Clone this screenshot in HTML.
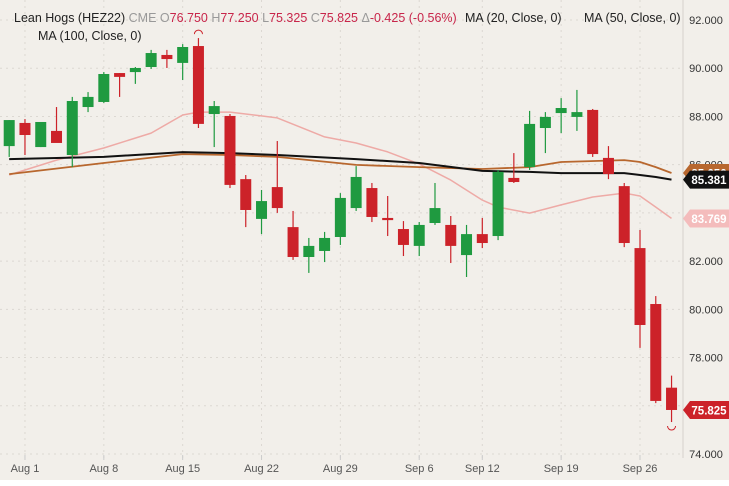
<!DOCTYPE html>
<html><head><meta charset="utf-8"><style>
body{margin:0;background:#fff;}
svg{display:block;font-family:"Liberation Sans",sans-serif;}
</style></head><body>
<svg id="c" width="729" height="486" viewBox="0 0 729 486">
<rect x="0" y="0" width="729" height="480" fill="#f2efea"/>
<line x1="683" y1="0" x2="683" y2="458" stroke="#d6d2cc" stroke-width="1"/>
<g id="grid"></g><g id="ma"></g><g id="candles"></g><g id="axes"></g><g id="labels"></g>
<g font-size="12.5">
<text x="14" y="22"><tspan fill="#222">Lean Hogs (HEZ22)</tspan><tspan fill="#999"> CME </tspan><tspan fill="#999"> O</tspan><tspan fill="#c8254a">76.750</tspan><tspan fill="#999"> H</tspan><tspan fill="#c8254a">77.250</tspan><tspan fill="#999"> L</tspan><tspan fill="#c8254a">75.325</tspan><tspan fill="#999"> C</tspan><tspan fill="#c8254a">75.825</tspan><tspan fill="#999"> Δ</tspan><tspan fill="#c8254a">-0.425 (-0.56%)</tspan></text>
<text x="465" y="22" fill="#222">MA (20, Close, 0)</text>
<text x="584" y="22" fill="#222">MA (50, Close, 0)</text>
<text x="38" y="40" fill="#222">MA (100, Close, 0)</text>
</g>
</svg>
<script>
const opens=[86.77,87.73,86.73,87.40,86.40,88.39,88.60,89.80,89.84,90.05,90.55,90.22,90.92,88.10,88.02,85.40,83.75,85.07,83.41,82.17,82.42,83.00,84.20,85.03,83.79,83.33,82.63,83.58,83.50,82.25,83.12,83.04,85.45,85.90,87.52,88.14,87.98,88.27,86.28,85.11,82.54,80.22,76.75];
const highs=[87.85,87.89,87.77,88.39,88.81,89.01,89.84,89.80,90.05,90.76,90.76,91.00,91.25,88.64,88.10,85.57,84.95,86.98,84.08,82.96,83.21,84.82,85.94,85.24,84.70,83.66,83.62,85.24,83.87,83.50,83.79,85.78,86.48,88.23,88.18,88.76,89.10,88.31,86.77,85.24,83.29,80.55,77.25];
const lows=[86.32,86.40,86.73,87.02,85.90,88.18,88.56,88.81,89.35,89.97,90.01,89.51,87.52,86.73,85.03,83.41,83.12,84.00,82.05,81.51,81.96,82.67,84.08,83.62,83.04,82.21,82.21,83.50,81.92,81.34,82.54,82.87,85.24,85.78,86.48,87.31,87.40,86.32,85.40,82.58,78.40,76.11,75.325];
const closes=[87.85,87.23,87.77,86.90,88.64,88.81,89.76,89.64,90.01,90.63,90.38,90.88,87.69,88.43,85.16,84.12,84.49,84.20,82.17,82.63,82.96,84.62,85.49,83.83,83.70,82.67,83.50,84.20,82.63,83.12,82.75,85.70,85.28,87.69,87.98,88.35,88.18,86.44,85.61,82.75,79.35,76.20,75.825];
const ma20Idx=[0,1,3,6,9,11,12,14,17,20,22,24,26,28,30,31,33,35,37,39,40,41,42];
const ma20=[85.57,85.78,86.19,86.69,87.31,88.06,88.18,88.18,87.94,87.15,86.90,86.53,86.03,85.36,84.53,84.24,83.99,84.33,84.66,84.82,84.70,84.24,83.769];
const ma50Idx=[0,6,11,14,17,22,26,30,33,35,39,40,41,42];
const ma50=[85.61,86.07,86.44,86.40,86.32,85.99,85.90,85.82,85.90,86.11,86.19,86.11,85.90,85.656];
const ma100Idx=[0,6,11,14,17,22,26,30,33,35,39,40,41,42];
const ma100=[86.23,86.32,86.52,86.48,86.40,86.23,86.07,85.74,85.70,85.65,85.65,85.57,85.49,85.381];
const yTicks=[92,90,88,86,84,82,80,78,76,74];
const xLabels=["Aug 1","Aug 8","Aug 15","Aug 22","Aug 29","Sep 6","Sep 12","Sep 19","Sep 26"];
const xLabelIdx=[1,6,11,16,21,26,30,35,40];

const NS="http://www.w3.org/2000/svg";
function y(p){return 20+(92-p)*24.11;}
function x(i){return 9.2+i*15.77;}
function mk(tag,attrs,parent){const e=document.createElementNS(NS,tag);for(const k in attrs)e.setAttribute(k,attrs[k]);parent.appendChild(e);return e;}
const G=document.getElementById('grid'),M=document.getElementById('ma'),C=document.getElementById('candles'),A=document.getElementById('axes'),L=document.getElementById('labels');

yTicks.forEach(t=>{
  const ln=mk('line',{x1:0,x2:683,y1:y(t),y2:y(t),stroke:'#dcd8d2','stroke-dasharray':'2,4'},G);
  
  
  const tx=mk('text',{x:706,y:y(t)+4,'text-anchor':'middle','font-size':'11',fill:'#333'},A);
  tx.textContent=t.toFixed(3);
  
  
});
xLabelIdx.forEach((k,j)=>{
  const ln=mk('line',{x1:x(k),x2:x(k),y1:0,y2:458,stroke:'#dcd8d2','stroke-dasharray':'2,4'},G);
  
  
  const tk=mk('line',{x1:x(k),x2:x(k),y1:455,y2:460,stroke:'#ccc'},A);
  
  
  const tx=mk('text',{x:x(k),y:472,'text-anchor':'middle','font-size':'11',fill:'#555'},A);
  tx.textContent=xLabels[j];
  
  
});

function maLine(idx,vals,color,w,name){
  const d=idx.map((k,j)=>(j?'L':'M')+x(k).toFixed(1)+','+y(vals[j]).toFixed(1)).join(' ');
  const p=mk('path',{d:d,fill:'none',stroke:color,'stroke-width':w,'stroke-linejoin':'round'},M);
  
  
}
maLine(ma20Idx,ma20,'#eeaaa6',1.5,'ma20-line');
maLine(ma50Idx,ma50,'#b8672e',1.8,'ma50-line');
maLine(ma100Idx,ma100,'#111',2,'ma100-line');

for(let i=0;i<opens.length;i++){
  const up=closes[i]>=opens[i];
  const col=up?'#1f9a40':'#cc2229';
  const g=mk('g',{},C);
  
  
  mk('line',{x1:x(i),x2:x(i),y1:y(highs[i]),y2:y(lows[i]),stroke:col,'stroke-width':1.2},g);
  const t=y(Math.max(opens[i],closes[i])),b=y(Math.min(opens[i],closes[i]));
  mk('rect',{x:x(i)-5.5,y:t,width:11,height:Math.max(b-t,2),fill:col},g);
}
// high / low markers
const hi=12,lo=42;
const hm=mk('path',{d:`M${x(hi)-4},${y(highs[hi])-4} A4,4 0 0 1 ${x(hi)+4},${y(highs[hi])-4}`,fill:'none',stroke:'#cc2229','stroke-width':1},L);


const lm=mk('path',{d:`M${x(lo)-4},${y(lows[lo])+4} A4,4 0 0 0 ${x(lo)+4},${y(lows[lo])+4}`,fill:'none',stroke:'#cc2229','stroke-width':1},L);



function tag(p,bg,fg,name){
  const yy=y(p);
  const g=mk('g',{},L);
  
  
  mk('path',{d:`M683,${yy} L690,${yy-9} L729,${yy-9} L729,${yy+9} L690,${yy+9} Z`,fill:bg},g);
  const t=mk('text',{x:709,y:yy+4.5,'text-anchor':'middle','font-size':'11.5','font-weight':'bold',fill:fg},g);
  t.textContent=p.toFixed(3);
}
tag(ma50[ma50.length-1],'#b8672e','#fff','ma50-price-tag');
tag(ma100[ma100.length-1],'#111','#fff','ma100-price-tag');
tag(ma20[ma20.length-1],'#f4bcbc','#fff','ma20-price-tag');
tag(closes[closes.length-1],'#cc2229','#fff','last-price-tag');
</script>
</body></html>
